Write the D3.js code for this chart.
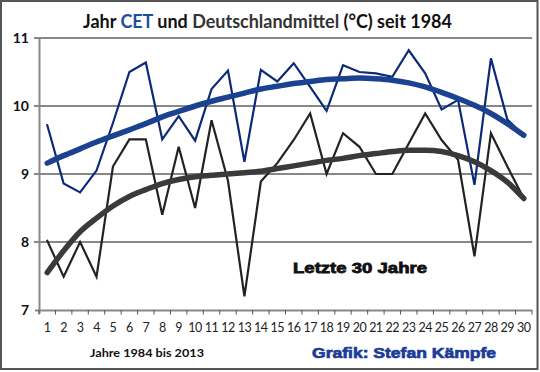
<!DOCTYPE html>
<html>
<head>
<meta charset="utf-8">
<script src="https://cdn.jsdelivr.net/npm/d3@7"></script>
<style>
  body { margin: 0; background: #fff; }
  svg { display: block; }
</style>
</head>
<body>
<div id="chart"></div>
<script>
var width = 540, height = 372;

// Jahre 1984..2013 als laufende Nummer
var years = d3.range(1, 31);
var cet = [9.72, 8.86, 8.73, 9.05, 9.75, 10.50, 10.64, 9.51, 9.85, 9.49,
           10.25, 10.52, 9.18, 10.53, 10.36, 10.63, 10.28, 9.93, 10.60, 10.50,
           10.48, 10.43, 10.82, 10.48, 9.95, 10.09, 8.84, 10.70, 9.80, 9.57];
var deutsch = [8.02, 7.49, 8.00, 7.49, 9.11, 9.51, 9.51, 8.40, 9.40, 8.50,
               9.79, 8.90, 7.20, 8.89, 9.16, 9.50, 9.89, 9.00, 9.60, 9.40,
               9.00, 9.00, 9.45, 9.89, 9.50, 9.21, 7.79, 9.60, 9.11, 8.64];
// Trendlinien (Polynom)
var cetTrend = [9.16, 9.27, 9.37, 9.47, 9.56, 9.65, 9.74, 9.84, 9.92, 10.00,
                10.07, 10.13, 10.19, 10.25, 10.29, 10.33, 10.36, 10.39, 10.40, 10.41,
                10.40, 10.38, 10.34, 10.28, 10.20, 10.11, 10.01, 9.89, 9.74, 9.57];
var deutschTrend = [7.55, 7.87, 8.15, 8.35, 8.53, 8.67, 8.77, 8.86, 8.92, 8.96,
                    8.98, 9.00, 9.02, 9.04, 9.08, 9.12, 9.16, 9.20, 9.23, 9.27,
                    9.30, 9.33, 9.35, 9.35, 9.33, 9.27, 9.18, 9.05, 8.88, 8.64];
var yTicks = [7, 8, 9, 10, 11];

var svg = d3.select("#chart").append("svg")
    .attr("width", width)
    .attr("height", height);

// Rahmen
svg.append("rect")
    .attr("x", 1).attr("y", 1)
    .attr("width", 536.5).attr("height", 368)
    .attr("fill", "#fff")
    .attr("stroke", "#555")
    .attr("stroke-width", 2);

var x = d3.scaleBand().domain(years).range([39, 532]);
var xc = d => x(d) + x.bandwidth() / 2;
var y = d3.scaleLinear().domain([7, 11]).range([310, 38]);

// Gitternetz
svg.append("g")
    .selectAll("line")
    .data(yTicks.slice(1))
    .enter()
    .append("line")
    .attr("x1", 34).attr("x2", 532)
    .attr("y1", d => y(d)).attr("y2", d => y(d))
    .attr("stroke", "#111")
    .attr("stroke-width", 1);

// y-Achse
svg.append("line")
    .attr("x1", 39.5).attr("x2", 39.5)
    .attr("y1", y(11)).attr("y2", y(7) + 4)
    .attr("stroke", "#888").attr("stroke-width", 2);

svg.append("g")
    .selectAll("text")
    .data(yTicks)
    .enter()
    .append("text")
    .attr("x", 29)
    .attr("y", d => y(d) + 5)
    .attr("text-anchor", "end")
    .style("font", "bold 14px Lato")
    .attr("fill", "#111")
    .text(d => d);

// x-Achse
svg.append("line")
    .attr("x1", 35).attr("x2", 532)
    .attr("y1", y(7) + 0.5).attr("y2", y(7) + 0.5)
    .attr("stroke", "#888").attr("stroke-width", 2);

svg.append("g")
    .selectAll("line")
    .data(years.concat([31]))
    .enter()
    .append("line")
    .attr("x1", d => d <= 30 ? x(d) : x(30) + x.bandwidth())
    .attr("x2", d => d <= 30 ? x(d) : x(30) + x.bandwidth())
    .attr("y1", y(7)).attr("y2", y(7) + 4.5)
    .attr("stroke", "#555").attr("stroke-width", 1);

svg.append("g")
    .selectAll("text")
    .data(years)
    .enter()
    .append("text")
    .attr("x", d => xc(d))
    .attr("y", 332)
    .attr("text-anchor", "middle")
    .style("font", "12.5px Lato")
    .style("letter-spacing", "-0.5px")
    .attr("fill", "#222")
    .text(d => d);

// Linien
function drawLine(values, color, w, curve) {
    var line = d3.line()
        .x((d, i) => xc(years[i]))
        .y(d => y(d));
    if (curve) line.curve(curve);
    svg.append("path")
        .datum(values)
        .attr("d", line)
        .attr("fill", "none")
        .attr("stroke", color)
        .attr("stroke-width", w)
        .attr("stroke-linejoin", curve ? "round" : "miter")
        .attr("stroke-linecap", "round");
}

drawLine(deutsch, "#222", 2.2);
drawLine(cet, "#0c2a78", 2.2);
drawLine(deutschTrend, "#3a3a3a", 5.5, d3.curveMonotoneX);
drawLine(cetTrend, "#1b4290", 5.5, d3.curveMonotoneX);

// Titel
var title = svg.append("text")
    .attr("x", 83).attr("y", 28)
    .attr("textLength", 369)
    .attr("lengthAdjust", "spacingAndGlyphs")
    .style("font", "bold 18px Lato")
    .attr("fill", "#111");
title.append("tspan").text("Jahr ");
title.append("tspan").attr("fill", "#1f4ea0").text("CET");
title.append("tspan").text(" und ");
title.append("tspan").attr("fill", "#333").text("Deutschlandmittel");
title.append("tspan").text(" (°C) seit 1984");

svg.append("text")
    .attr("x", 293).attr("y", 273)
    .attr("textLength", 134)
    .attr("lengthAdjust", "spacingAndGlyphs")
    .style("font", "bold 15px 'Liberation Sans'")
    .attr("fill", "#111")
    .attr("stroke", "#111").attr("stroke-width", 0.8)
    .text("Letzte 30 Jahre");

svg.append("text")
    .attr("x", 90).attr("y", 357)
    .attr("textLength", 114)
    .attr("lengthAdjust", "spacingAndGlyphs")
    .style("font", "bold 12px Lato")
    .attr("fill", "#111")
    .text("Jahre 1984 bis 2013");

svg.append("text")
    .attr("x", 312).attr("y", 358)
    .attr("textLength", 184)
    .attr("lengthAdjust", "spacingAndGlyphs")
    .style("font", "bold 15px 'Liberation Sans'")
    .attr("fill", "#1b3c9a")
    .attr("stroke", "#1b3c9a").attr("stroke-width", 0.7)
    .text("Grafik: Stefan Kämpfe");
</script>
</body>
</html>
